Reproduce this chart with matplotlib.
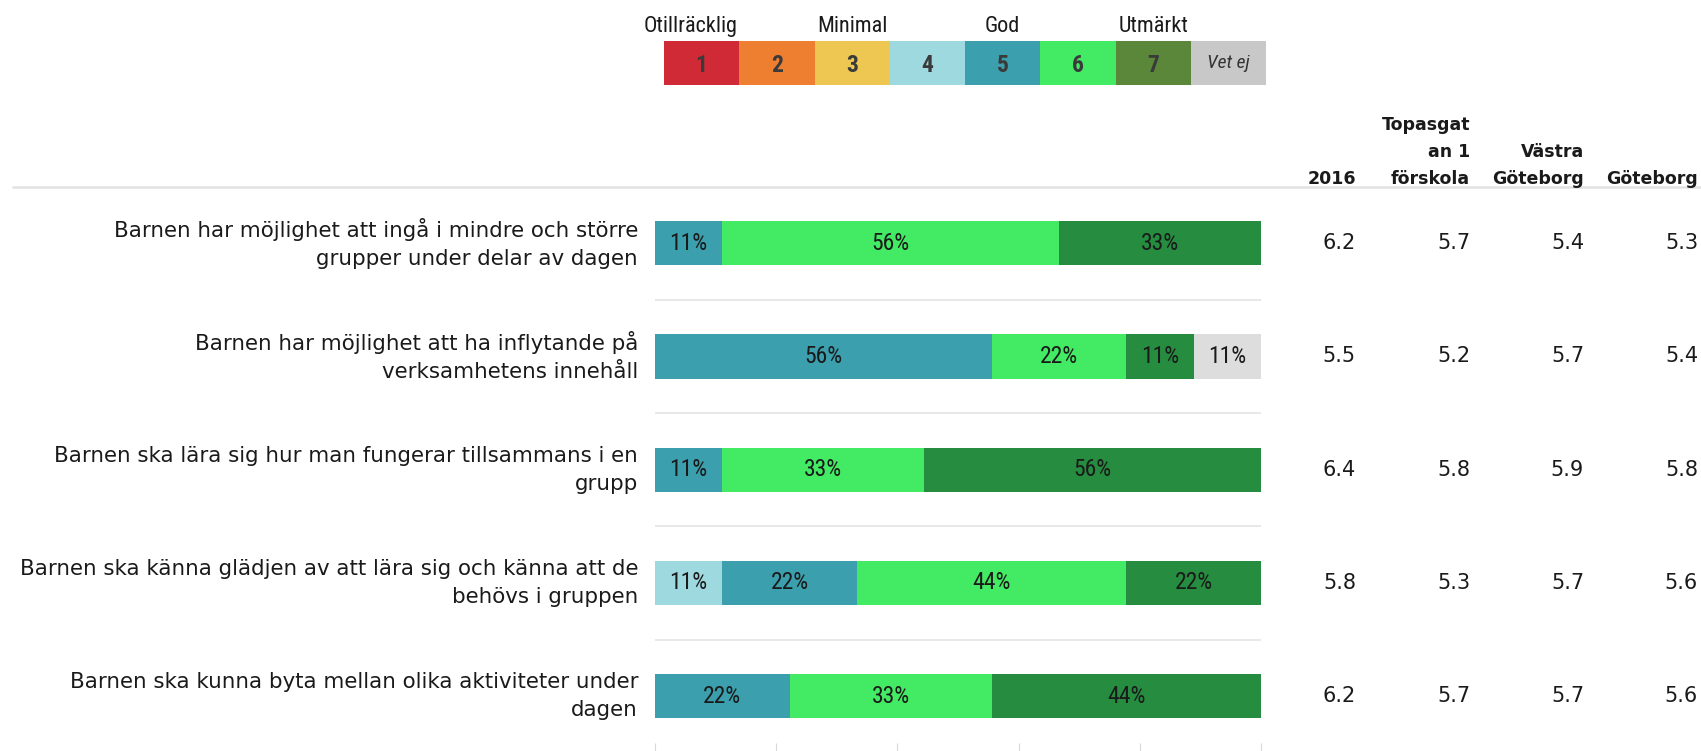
import matplotlib
matplotlib.use("Agg")
import matplotlib.pyplot as plt
from matplotlib import font_manager
from matplotlib.lines import Line2D
from matplotlib.patches import Rectangle
import matplotlib.transforms as mtrans

# frågor (radetiketter)
questions = [
    "Barnen har möjlighet att ingå i mindre och större\ngrupper under delar av dagen",
    "Barnen har möjlighet att ha inflytande på\nverksamhetens innehåll",
    "Barnen ska lära sig hur man fungerar tillsammans i en\ngrupp",
    "Barnen ska känna glädjen av att lära sig och känna att de\nbehövs i gruppen",
    "Barnen ska kunna byta mellan olika aktiviteter under\ndagen",
]

# antal svar per betyg (9 svarande)
n_resp = 9
grade_keys = ["1", "2", "3", "4", "5", "6", "7", "Vet ej"]
g1 = [0, 0, 0, 0, 0]
g2 = [0, 0, 0, 0, 0]
g3 = [0, 0, 0, 0, 0]
g4 = [0, 0, 0, 1, 0]
g5 = [1, 5, 1, 2, 2]
g6 = [5, 2, 3, 4, 3]
g7 = [3, 1, 5, 2, 4]
vet_ej = [0, 1, 0, 0, 0]
counts = [g1, g2, g3, g4, g5, g6, g7, vet_ej]

# medelvärden
col_headers = ["2016", "Topasgat\nan 1\nförskola", "Västra\nGöteborg", "Göteborg"]
v2016 = [6.2, 5.5, 6.4, 5.8, 6.2]
topasgatan = [5.7, 5.2, 5.8, 5.3, 5.7]
vastra = [5.4, 5.7, 5.9, 5.7, 5.7]
goteborg = [5.3, 5.4, 5.8, 5.6, 5.6]
col_values = [v2016, topasgatan, vastra, goteborg]

legend_words = {0: "Otillräcklig", 2: "Minimal", 4: "God", 6: "Utmärkt"}

bar_colors = ["#d12a37", "#ee7f30", "#edc752", "#9fd9e0", "#3b9fad", "#43ea64", "#268d40", "#dddddd"]
legend_colors = ["#d12a37", "#ee7f30", "#edc752", "#9fd9e0", "#3b9fad", "#43ea64", "#5a873a", "#c8c8c8"]

W, H = 1701, 751
names = {f.name for f in font_manager.fontManager.ttflist}
cond = "DejaVu Sans"
for n in ["Liberation Sans Narrow", "Roboto Condensed", "Open Sans Condensed"]:
    if n in names:
        cond = n
        break

fig = plt.figure(figsize=(W / 100, H / 100), dpi=100)

def fx(px):
    return px / W

def fy(py):
    return 1 - py / H

# huvudaxel med staplarna
ax_top = 186.6
ax = fig.add_axes([fx(655), 0, fx(1261) - fx(655), fy(ax_top)])
ax.set_xlim(0, 100)
ax.set_ylim(4.484, -0.5)

rows = list(range(len(questions)))
left = [0.0] * len(rows)
for k in range(len(grade_keys)):
    widths = [c / n_resp * 100 for c in counts[k]]
    ax.barh(rows, widths, left=left, height=0.39, color=bar_colors[k], linewidth=0)
    for r in rows:
        if counts[k][r] > 0:
            ax.text(left[r] + widths[r] / 2, r, f"{round(widths[r])}%", ha="center", va="center",
                    fontsize=17, color="#1a1a1a", family=cond, fontstretch="condensed")
    left = [a + b for a, b in zip(left, widths)]

for r in rows[:-1]:
    ax.axhline(r + 0.5, color="#e4e4e4", lw=1.2)

ax.set_xticks([0, 20, 40, 60, 80, 100])
ax.tick_params(axis="x", direction="in", length=6, color="#d9d9d9", labelbottom=False)
ax.set_yticks([])
for s in ax.spines.values():
    s.set_visible(False)

# linje under rubrikerna
fig.add_artist(Line2D([fx(13), 1], [fy(187), fy(187)], color="#e2e2e2", lw=1.8))

blend = mtrans.blended_transform_factory(fig.transFigure, ax.transData)

# radetiketter
for r, q in enumerate(questions):
    fig.text(fx(638), r, q, transform=blend, ha="right", va="center", multialignment="right",
             fontsize=15.4, color="#1a1a1a", linespacing=1.52)

# tabell till höger
col_right = [1356, 1470, 1584, 1698]
for j, head in enumerate(col_headers):
    lines = head.split("\n")
    for i, line in enumerate(reversed(lines)):
        fig.text(fx(col_right[j]), fy(183.5 - 26.5 * i), line, ha="right", va="baseline",
                 fontsize=12.5, fontweight="bold", color="#1a1a1a")
    for r in rows:
        fig.text(fx(col_right[j]), r, f"{col_values[j][r]:.1f}", transform=blend, ha="right",
                 va="center", fontsize=15, color="#1a1a1a")

# teckenförklaring
lax = fig.add_axes([fx(664), fy(85), fx(1266) - fx(664), fy(41) - fy(85)])
lax.set_xlim(0, 8)
lax.set_ylim(0, 1)
lax.axis("off")
for k, key in enumerate(grade_keys):
    lax.add_patch(Rectangle((k, 0), 1, 1, color=legend_colors[k], lw=0))
    if key == "Vet ej":
        lax.text(k + 0.5, 0.5, key, ha="center", va="center", fontsize=14, style="italic",
                 color="#333333", family=cond, fontstretch="condensed")
    else:
        lax.text(k + 0.5, 0.45, key, ha="center", va="center", fontsize=17, fontweight="bold",
                 color="#3a3a3a", family=cond, fontstretch="condensed")
    if k in legend_words:
        lax.text(k + 0.5 - (0.15 if k == 0 else 0), 1.2, legend_words[k], ha="center", va="baseline",
                 fontsize=16, color="#1a1a1a", family=cond, fontstretch="condensed")

fig.savefig("out.png", dpi=100)
